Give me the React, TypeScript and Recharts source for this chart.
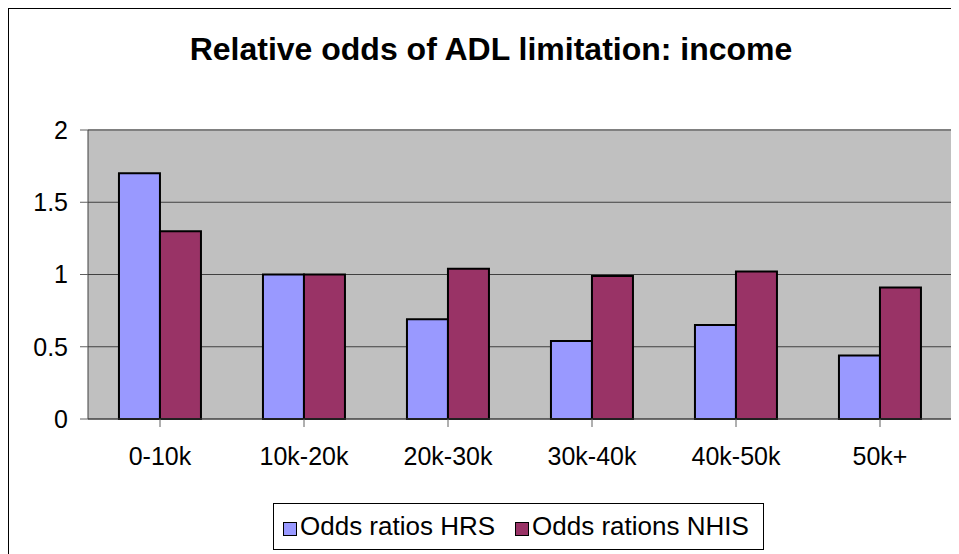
import { Bar, BarChart, CartesianGrid, Legend, ReferenceLine, XAxis, YAxis } from "recharts";

const categories = ["0-10k", "10k-20k", "20k-30k", "30k-40k", "40k-50k", "50k+"];
const hrsValues = [1.7, 1.0, 0.69, 0.54, 0.65, 0.44];
const nhisValues = [1.3, 1.0, 1.04, 0.99, 1.02, 0.91];
const yTicks = [0, 0.5, 1, 1.5, 2];

const title = "Relative odds of ADL limitation: income";
const hrsName = "Odds ratios HRS";
const nhisName = "Odds rations NHIS";
const seriesOrder = [hrsName, nhisName];

const data = categories.map((c, i) => ({ cat: c, hrs: hrsValues[i], nhis: nhisValues[i] }));

const FONT = '"Liberation Sans", Arial, sans-serif';

function LegendBox({ payload }: { payload?: Array<{ value: string; color: string }> }) {
  // recharts sorts legend items by name; keep the series order instead
  const items = [...(payload ?? [])].sort(
    (a, b) => seriesOrder.indexOf(a.value) - seriesOrder.indexOf(b.value)
  );
  return (
    <div
      style={{
        display: "flex",
        alignItems: "center",
        boxSizing: "border-box",
        border: "1px solid #000",
        background: "#fff",
        height: 47,
        width: 491,
        padding: "0 0 0 9px",
        fontFamily: FONT,
        fontSize: 26,
        color: "#000",
        whiteSpace: "nowrap",
      }}
    >
      {items.map((p) => (
        <span key={p.value} style={{ display: "flex", alignItems: "center", marginRight: 20 }}>
          <span
            style={{
              width: 14,
              height: 14,
              background: p.color,
              border: "1px solid #000",
              marginRight: 3,
              marginTop: 4,
              boxSizing: "border-box",
            }}
          />
          {p.value}
        </span>
      ))}
    </div>
  );
}

export default function App() {
  return (
    <div
      style={{
        position: "relative",
        width: 950,
        height: 545,
        borderTop: "1px solid #000",
        borderLeft: "1px solid #000",
        background: "#fff",
        fontFamily: FONT,
      }}
    >
      <div
        style={{
          position: "absolute",
          left: 0,
          width: 964,
          top: 22,
          textAlign: "center",
          fontSize: 32,
          fontWeight: "bold",
          color: "#000",
        }}
      >
        {title}
      </div>
      <BarChart
        width={950}
        height={545}
        data={data}
        margin={{ top: 121, right: 7, left: 0, bottom: 52 }}
        barCategoryGap="21.5%"
        barGap={0}
      >
        <CartesianGrid
          vertical={false}
          stroke="#404040"
          fill="#C0C0C0"
          fillOpacity={1}
        />
        <XAxis
          dataKey="cat"
          height={36}
          axisLine={{ stroke: "#404040", strokeWidth: 1 }}
          tickLine={{ stroke: "#606060" }}
          tickSize={8}
          tickMargin={20}
          tick={{ fill: "#000", fontSize: 25, fontFamily: FONT }}
          interval={0}
        />
        <YAxis
          width={79}
          domain={[0, 2]}
          ticks={yTicks}
          axisLine={{ stroke: "#404040", strokeWidth: 1 }}
          tickLine={{ stroke: "#606060" }}
          tickSize={8}
          tickMargin={12}
          tick={{ fill: "#000", fontSize: 25, fontFamily: FONT }}
        />
        <YAxis
          yAxisId="right"
          orientation="right"
          width={0}
          domain={[0, 2]}
          tick={false}
          tickLine={false}
          axisLine={{ stroke: "#808080", strokeWidth: 2 }}
        />
        <ReferenceLine y={2} stroke="#808080" strokeWidth={2} />
        <Legend
          content={<LegendBox />}
          wrapperStyle={{ position: "absolute", left: 264, top: 494, width: "auto" }}
        />
        <Bar dataKey="hrs" name={hrsName} fill="#9999FF" stroke="#000" strokeWidth={2} isAnimationActive={false} />
        <Bar dataKey="nhis" name={nhisName} fill="#993366" stroke="#000" strokeWidth={2} isAnimationActive={false} />
      </BarChart>
    </div>
  );
}
